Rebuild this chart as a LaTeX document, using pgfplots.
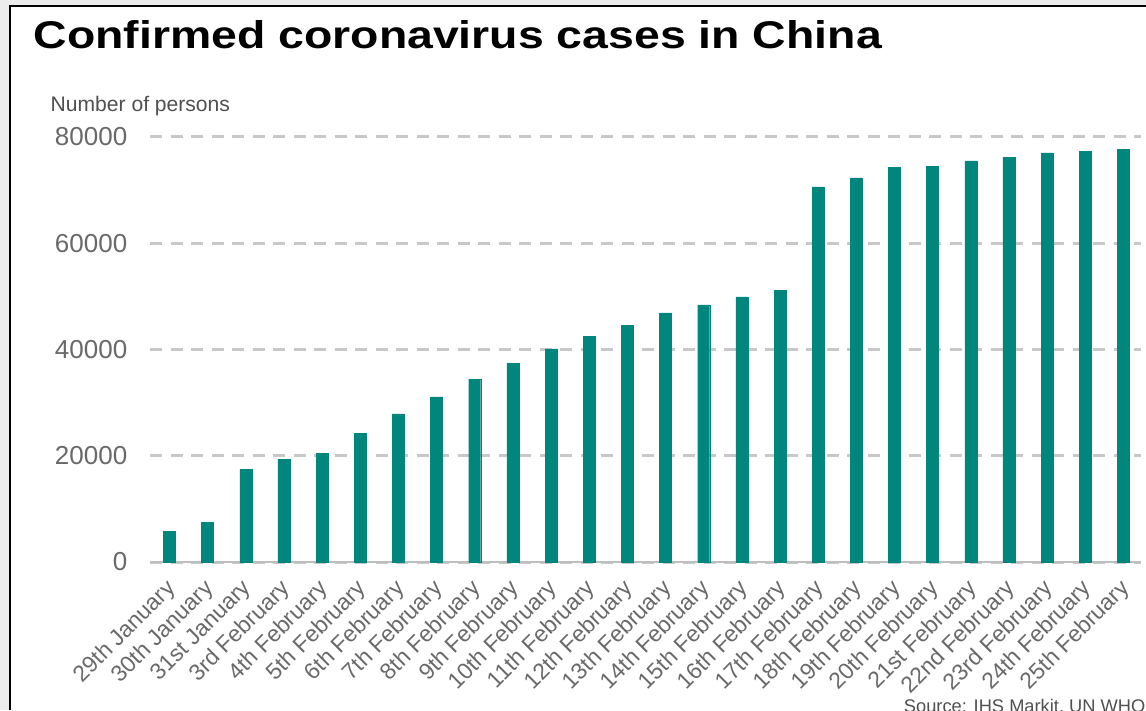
\documentclass[border=0pt]{standalone}
\usepackage{fontspec}
\setmainfont{Liberation Sans}
\newfontfamily\titlefont{Liberation Sans Bold}[FakeStretch=1.2]
\usepackage{pgfplots}
\pgfplotsset{compat=1.18}

\definecolor{barteal}{RGB}{0,134,125}
\definecolor{gridgray}{RGB}{200,200,200}
\definecolor{basegray}{RGB}{190,190,190}
\definecolor{ticklab}{RGB}{105,105,105}
\definecolor{labgray}{RGB}{80,80,80}
\definecolor{framebg}{RGB}{236,236,236}

\begin{document}
\begin{tikzpicture}
% screenshot frame
\fill[framebg] (0,0) rectangle (11.46,7.10);
\fill[white] (0.10,0) rectangle (11.46,7.04);
\draw[black, line width=0.22mm] (0.10,0) -- (0.10,7.04) -- (11.46,7.04);

\node[anchor=base west, inner sep=0pt, font=\titlefont\fontsize{11}{13}\selectfont]
  at (0.33,6.615) {Confirmed coronavirus cases in China};
\node[anchor=base west, inner sep=0pt, font=\fontsize{6}{7}\selectfont, text=labgray]
  at (0.50,5.98) {Number of persons};

\begin{axis}[
    at={(1.50cm,1.48cm)}, anchor=south west,
    scale only axis, width=9.91cm, height=4.25cm,
    xmin=-0.51, xmax=25.46,
    ymin=0, ymax=80000,
    ybar, bar width=0.12cm,
    axis line style={draw=none},
    major tick length=0pt,
    tick style={draw=none},
    ytick={0,20000,40000,60000,80000},
    scaled y ticks=false,
    /pgf/number format/1000 sep={},
    /pgf/number format/assume math mode=true,
    ymajorgrids=true,
    grid style={gridgray, line width=0.3mm, dash pattern=on 1.2mm off 0.85mm},
    extra y ticks={0},
    extra y tick labels={},
    extra y tick style={grid=major, major grid style={solid, basegray, line width=0.25mm}},
    yticklabel style={font=\fontsize{7.4}{8}\selectfont, text=ticklab,
        anchor=east, inner sep=0pt, xshift=-2.2mm},
    xtick={0,...,25},
    xticklabels={29th January,30th January,31st January,3rd February,4th February,
        5th February,6th February,7th February,8th February,9th February,
        10th February,11th February,12th February,13th February,14th February,
        15th February,16th February,17th February,18th February,19th February,
        20th February,21st February,22nd February,23rd February,24th February,
        25th February},
    xticklabel style={xshift=-0.5mm, yshift=-1.5mm, rotate=45, anchor=north east,
        inner sep=0pt, font=\fontsize{6.5}{7}\selectfont, text=ticklab},
]
\addplot[fill=barteal, draw=barteal, line width=0.1pt] coordinates {
    (0,5800) (1,7500) (2,17400) (3,19300) (4,20400) (5,24200)
    (6,27900) (7,31100) (8,34400) (9,37400) (10,40100) (11,42500)
    (12,44600) (13,46900) (14,48400) (15,49900) (16,51100) (17,70600)
    (18,72300) (19,74300) (20,74500) (21,75500) (22,76200) (23,77000)
    (24,77300) (25,77700)
};
\end{axis}

\node[anchor=base east, inner sep=0pt, font=\fontsize{5.2}{6}\selectfont, text=labgray]
  at (11.46,-0.02) {Source: IHS Markit, UN WHO};

\pgfresetboundingbox
\useasboundingbox (0,0) rectangle (11.46,7.10);
\end{tikzpicture}
\end{document}
